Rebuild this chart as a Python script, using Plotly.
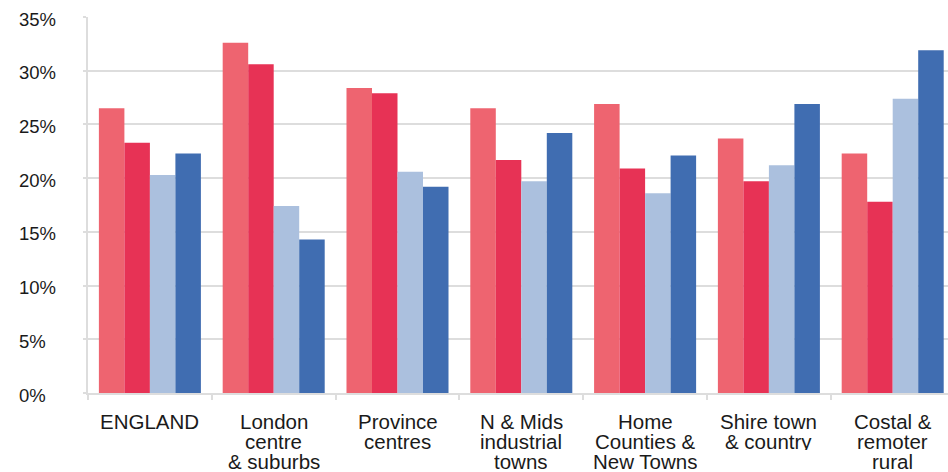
import plotly.graph_objects as go

categories = [
    "ENGLAND",
    "London<br>centre<br>& suburbs",
    "Province<br>centres",
    "N & Mids<br>industrial<br>towns",
    "Home<br>Counties &<br>New Towns",
    "Shire town<br>& country",
    "Costal &<br>remoter<br>rural",
]
series_names = ["Series 1", "Series 2", "Series 3", "Series 4"]
series_1 = [26.5, 32.6, 28.4, 26.5, 26.9, 23.7, 22.3]
series_2 = [23.3, 30.6, 27.9, 21.7, 20.9, 19.7, 17.8]
series_3 = [20.3, 17.4, 20.6, 19.7, 18.6, 21.2, 27.4]
series_4 = [22.3, 14.3, 19.2, 24.2, 22.1, 26.9, 31.9]
colors = ["#EE6470", "#E73255", "#ABC0DE", "#406DB1"]
y_ticks = [0, 5, 10, 15, 20, 25, 30, 35]
y_tick_labels = [f"{v}%" for v in y_ticks]

W, H = 948, 472
L, T, B = 88, 17, 79
group_px = 123.8
x_max = -0.5 + (W - L) / group_px

fig = go.Figure()
for name, vals, col in zip(series_names, [series_1, series_2, series_3, series_4], colors):
    fig.add_trace(go.Bar(x=categories, y=vals, name=name, marker=dict(color=col, line=dict(width=0))))

annotations = []
font_family = "Liberation Sans, Arial, sans-serif"
for cat in categories:
    for i, line in enumerate(cat.split("<br>")):
        annotations.append(dict(
            x=cat, xref="x", y=0, yref="paper", yanchor="top", xanchor="center",
            yshift=-18 - 20 * i, text=line, showarrow=False,
            height=18, valign="middle", borderpad=0,
            font=dict(family=font_family, size=20.5, color="#1a1a1a"),
        ))
for v, lab in zip(y_ticks, y_tick_labels):
    annotations.append(dict(
        x=0, xref="paper", xanchor="left", xshift=17 - L, y=v, yref="y",
        yanchor="middle", yshift=-2, text=lab, showarrow=False,
        font=dict(family=font_family, size=18.5, color="#1a1a1a"),
    ))

fig.update_layout(
    width=W, height=H,
    margin=dict(l=L, r=0, t=T, b=B, pad=0),
    barmode="group", bargap=0.176, bargroupgap=0,
    showlegend=False,
    plot_bgcolor="white", paper_bgcolor="white",
    annotations=annotations,
    xaxis=dict(
        type="category", range=[-0.5, x_max], showticklabels=False,
        showgrid=False, showline=True, linecolor="#DDDDDD", linewidth=2,
        ticks="outside", tickson="boundaries", ticklen=5, tickcolor="#DDDDDD", tickwidth=2,
    ),
    yaxis=dict(
        range=[0, 35], tickvals=y_ticks, showticklabels=False,
        showgrid=True, gridcolor="#DDDDDD", gridwidth=2,
        showline=True, linecolor="#DDDDDD", linewidth=2,
        ticks="outside", ticklen=3, tickcolor="#DDDDDD", tickwidth=2,
        zeroline=False,
    ),
)

fig.write_html("out.html")
